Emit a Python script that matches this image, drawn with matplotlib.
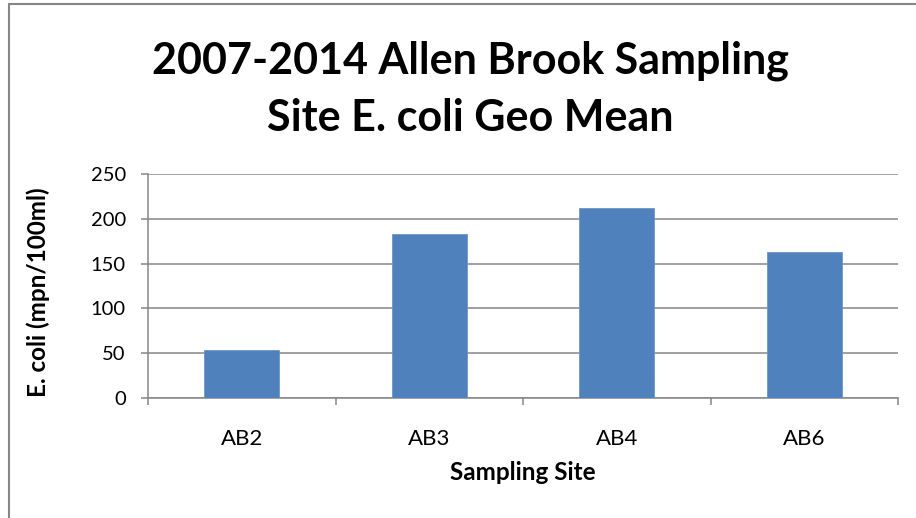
import numpy as np
import matplotlib.pyplot as plt
from matplotlib.patches import Rectangle

# data
sites = ["AB2", "AB3", "AB4", "AB6"]
geo_mean = [54, 183, 212, 163]
y_ticks = [0, 50, 100, 150, 200, 250]

plt.rcParams['font.family'] = ['Lato', 'DejaVu Sans']

W, H = 916, 518
fig = plt.figure(figsize=(W / 100, H / 100), dpi=100)

def fx(px):
    return px / W

def fy(py):
    return 1 - py / H

grid_col = "#868686"
bar_col = "#4F81BD"

# plot area
ax = fig.add_axes([fx(148), fy(398), fx(898) - fx(148), fy(174) - fy(398)])
x = np.arange(len(sites))
ax.bar(x, geo_mean, width=0.4, color=bar_col, edgecolor="#6c96c8", linewidth=0.6, zorder=3)

ax.set_xlim(-0.5, len(sites) - 0.5)
ax.set_ylim(0, 250)
ax.set_yticks(y_ticks)
ax.yaxis.grid(True, color=grid_col, linewidth=1.1, zorder=0)
ax.set_axisbelow(True)

for s in ["top", "right"]:
    ax.spines[s].set_visible(False)
for s in ["left", "bottom"]:
    ax.spines[s].set_color(grid_col)
    ax.spines[s].set_linewidth(1.1)

ax.tick_params(axis="y", direction="out", length=5, width=1.1, color=grid_col,
               labelsize=14.5, pad=11, labelcolor="black")
ax.set_xticks(x)
ax.set_xticklabels(sites)
ax.tick_params(axis="x", which="major", length=0, labelsize=16, pad=22)
ax.set_xticks(np.arange(-0.5, len(sites)), minor=True)
ax.tick_params(axis="x", which="minor", direction="out", length=5, width=1.1, color=grid_col)

# titles
fig.text(fx(470), fy(74), "2007-2014 Allen Brook Sampling", ha="center", va="baseline",
         fontsize=31, fontweight="bold")
fig.text(fx(470), fy(131), "Site E. coli Geo Mean", ha="center", va="baseline",
         fontsize=31, fontweight="bold")
fig.text(fx(523), fy(473), "Sampling Site", ha="center", va="center",
         fontsize=17.5, fontweight="bold")
fig.text(fx(38), fy(292), "E. coli (mpn/100ml)", ha="center", va="center",
         rotation=90, fontsize=17.5, fontweight="bold")

# chart area border (cut off at the right and bottom)
fig.add_artist(Rectangle((fx(9), fy(H + 20)), fx(W + 20), fy(3.5) - fy(H + 20),
                         transform=fig.transFigure, fill=False,
                         edgecolor=grid_col, linewidth=1.5))

fig.savefig("out.png", dpi=100)
